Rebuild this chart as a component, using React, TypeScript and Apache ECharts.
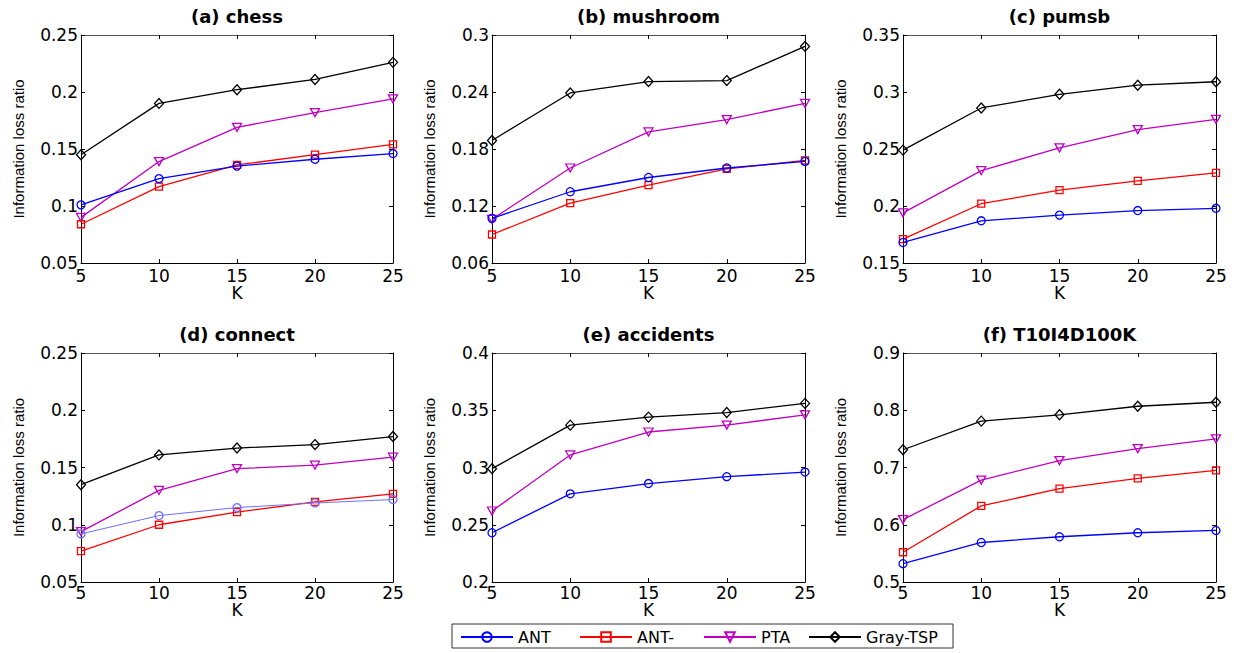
import React, { useEffect, useRef } from "react";
import * as echarts from "echarts";

const K = [5, 10, 15, 20, 25];
const SERIES_NAMES = ["ANT", "ANT-", "PTA", "Gray-TSP"];
const PANEL_TITLES = [
  "(a) chess",
  "(b) mushroom",
  "(c) pumsb",
  "(d) connect",
  "(e) accidents",
  "(f) T10I4D100K",
];

const chessANT = [0.101, 0.124, 0.135, 0.141, 0.146];
const chessANTminus = [0.084, 0.117, 0.136, 0.145, 0.154];
const chessPTA = [0.09, 0.139, 0.169, 0.182, 0.194];
const chessGrayTSP = [0.145, 0.19, 0.202, 0.211, 0.226];

const mushroomANT = [0.107, 0.135, 0.15, 0.16, 0.167];
const mushroomANTminus = [0.09, 0.123, 0.142, 0.159, 0.168];
const mushroomPTA = [0.106, 0.16, 0.198, 0.211, 0.228];
const mushroomGrayTSP = [0.189, 0.239, 0.251, 0.252, 0.288];

const pumsbANT = [0.168, 0.187, 0.192, 0.196, 0.198];
const pumsbANTminus = [0.171, 0.202, 0.214, 0.222, 0.229];
const pumsbPTA = [0.194, 0.231, 0.251, 0.267, 0.276];
const pumsbGrayTSP = [0.249, 0.286, 0.298, 0.306, 0.309];

const connectANT = [0.092, 0.108, 0.115, 0.119, 0.122];
const connectANTminus = [0.077, 0.1, 0.111, 0.12, 0.127];
const connectPTA = [0.094, 0.13, 0.149, 0.152, 0.159];
const connectGrayTSP = [0.135, 0.161, 0.167, 0.17, 0.177];

const accidentsANT = [0.243, 0.277, 0.286, 0.292, 0.296];
const accidentsANTminus: number[] | null = null;
const accidentsPTA = [0.262, 0.311, 0.331, 0.337, 0.346];
const accidentsGrayTSP = [0.299, 0.337, 0.344, 0.348, 0.356];

const t10ANT = [0.532, 0.569, 0.579, 0.586, 0.59];
const t10ANTminus = [0.552, 0.633, 0.663, 0.681, 0.695];
const t10PTA = [0.609, 0.678, 0.712, 0.733, 0.75];
const t10GrayTSP = [0.731, 0.781, 0.792, 0.807, 0.814];

const Y_MIN = [0.05, 0.06, 0.15, 0.05, 0.2, 0.5];
const Y_MAX = [0.25, 0.3, 0.35, 0.25, 0.4, 0.9];
const Y_STEP = [0.05, 0.06, 0.05, 0.05, 0.05, 0.1];

const PANEL_DATA: (number[] | null)[][] = [
  [chessANT, chessANTminus, chessPTA, chessGrayTSP],
  [mushroomANT, mushroomANTminus, mushroomPTA, mushroomGrayTSP],
  [pumsbANT, pumsbANTminus, pumsbPTA, pumsbGrayTSP],
  [connectANT, connectANTminus, connectPTA, connectGrayTSP],
  [accidentsANT, accidentsANTminus, accidentsPTA, accidentsGrayTSP],
  [t10ANT, t10ANTminus, t10PTA, t10GrayTSP],
];

const COLORS = ["#0000ff", "#ff0000", "#c000c0", "#000000"];
const SYMBOLS = ["circle", "rect", "path://M0,0L10,0L5,9Z", "diamond"];
const SYMBOL_SIZES: any[] = [8, 7, [9, 8], [9, 10]];

const GRID_LEFT = [81, 492, 903];
const GRID_WIDTH = [312, 313, 313];
const GRID_TOP = [35, 353];
const GRID_HEIGHT = [228, 229];

const LEGEND_LEFT = [460, 579, 703, 808];

const TICK_FONT = "DejaVu Sans";

export default function App() {
  const ref = useRef<HTMLDivElement>(null);

  useEffect(() => {
    if (!ref.current) return;
    const chart = echarts.init(ref.current, null, { renderer: "svg" });

    const grids: any[] = [];
    const xAxes: any[] = [];
    const yAxes: any[] = [];
    const series: any[] = [];
    const titles: any[] = [];

    for (let i = 0; i < 6; i++) {
      const row = Math.floor(i / 3);
      const col = i % 3;
      grids.push({
        left: GRID_LEFT[col],
        top: GRID_TOP[row],
        width: GRID_WIDTH[col],
        height: GRID_HEIGHT[row],
        containLabel: false,
      });
      titles.push({
        text: PANEL_TITLES[i],
        left: GRID_LEFT[col] + GRID_WIDTH[col] / 2,
        top: row === 0 ? 7 : 325,
        textAlign: "center",
        padding: 0,
        textStyle: {
          fontFamily: TICK_FONT,
          fontWeight: "bold",
          fontSize: 18,
          color: "#000",
        },
      });
      const axLine = { show: true, lineStyle: { color: "#000", width: 1 } };
      xAxes.push({
        type: "value",
        gridIndex: i,
        min: 5,
        max: 25,
        interval: 5,
        position: "bottom",
        name: "K",
        nameLocation: "middle",
        nameGap: row === 0 ? 21 : 19,
        nameTextStyle: { fontFamily: TICK_FONT, fontSize: 17, color: "#000" },
        axisLine: axLine,
        axisTick: { show: true, inside: true, length: 4, lineStyle: { color: "#000" } },
        axisLabel: {
          show: true,
          margin: row === 0 ? 4 : 2,
          fontFamily: TICK_FONT,
          fontSize: 17,
          color: "#000",
        },
        splitLine: { show: false },
      });
      xAxes.push({
        type: "value",
        gridIndex: i,
        min: 5,
        max: 25,
        interval: 5,
        position: "top",
        axisLine: { show: true, lineStyle: { color: "#555", width: 1 } },
        axisTick: { show: true, inside: true, length: 4, lineStyle: { color: "#000" } },
        axisLabel: { show: false },
        splitLine: { show: false },
      });
      yAxes.push({
        type: "value",
        gridIndex: i,
        min: Y_MIN[i],
        max: Y_MAX[i],
        interval: Y_STEP[i],
        position: "left",
        name: "Information loss ratio",
        nameLocation: "middle",
        nameGap: 55,
        nameTextStyle: { fontFamily: "Liberation Sans", fontSize: 15, color: "#000" },
        axisLine: axLine,
        axisTick: { show: true, inside: true, length: 4, lineStyle: { color: "#000" } },
        axisLabel: {
          show: true,
          margin: 3,
          fontFamily: TICK_FONT,
          fontSize: 17,
          color: "#000",
        },
        splitLine: { show: false },
      });
      yAxes.push({
        type: "value",
        gridIndex: i,
        min: Y_MIN[i],
        max: Y_MAX[i],
        interval: Y_STEP[i],
        position: "right",
        axisLine: axLine,
        axisTick: { show: true, inside: true, length: 4, lineStyle: { color: "#000" } },
        axisLabel: { show: false },
        splitLine: { show: false },
      });

      PANEL_DATA[i].forEach((vals, s) => {
        if (!vals) return;
        const thin = i === 3 && s === 0;
        series.push({
          type: "line",
          name: SERIES_NAMES[s],
          xAxisIndex: 2 * i,
          yAxisIndex: 2 * i,
          data: K.map((k, j) => [k, vals[j]]),
          symbol: SYMBOLS[s],
          symbolSize: SYMBOL_SIZES[s],
          showAllSymbol: true,
          lineStyle: { color: thin ? "#6f6fff" : COLORS[s], width: thin ? 1 : 1.3 },
          itemStyle: {
            color: "rgba(255,255,255,0)",
            borderColor: thin ? "#6f6fff" : COLORS[s],
            borderWidth: 1.3,
          },
          z: 10 - s,
          emphasis: { disabled: true },
        });
      });
    }

    const legends = SERIES_NAMES.map((n, s) => ({
      data: [n],
      left: LEGEND_LEFT[s],
      top: 629,
      padding: 0,
      itemWidth: 52,
      itemHeight: 12,
      itemGap: 0,
      selectedMode: false,
      textStyle: { fontFamily: TICK_FONT, fontSize: 16, color: "#000", padding: [0, 0, 0, 0] },
    }));

    chart.setOption({
      animation: false,
      backgroundColor: "#fff",
      title: titles,
      grid: grids,
      xAxis: xAxes,
      yAxis: yAxes,
      series,
      legend: legends,
      graphic: [
        {
          type: "rect",
          shape: { x: 452, y: 624, width: 501, height: 24 },
          style: { fill: "none", stroke: "#333", lineWidth: 1 },
          silent: true,
        },
      ],
    });

    return () => chart.dispose();
  }, []);

  return (
    <div
      ref={ref}
      style={{ position: "fixed", left: 0, top: 0, width: 1234, height: 653, background: "#fff" }}
    />
  );
}
